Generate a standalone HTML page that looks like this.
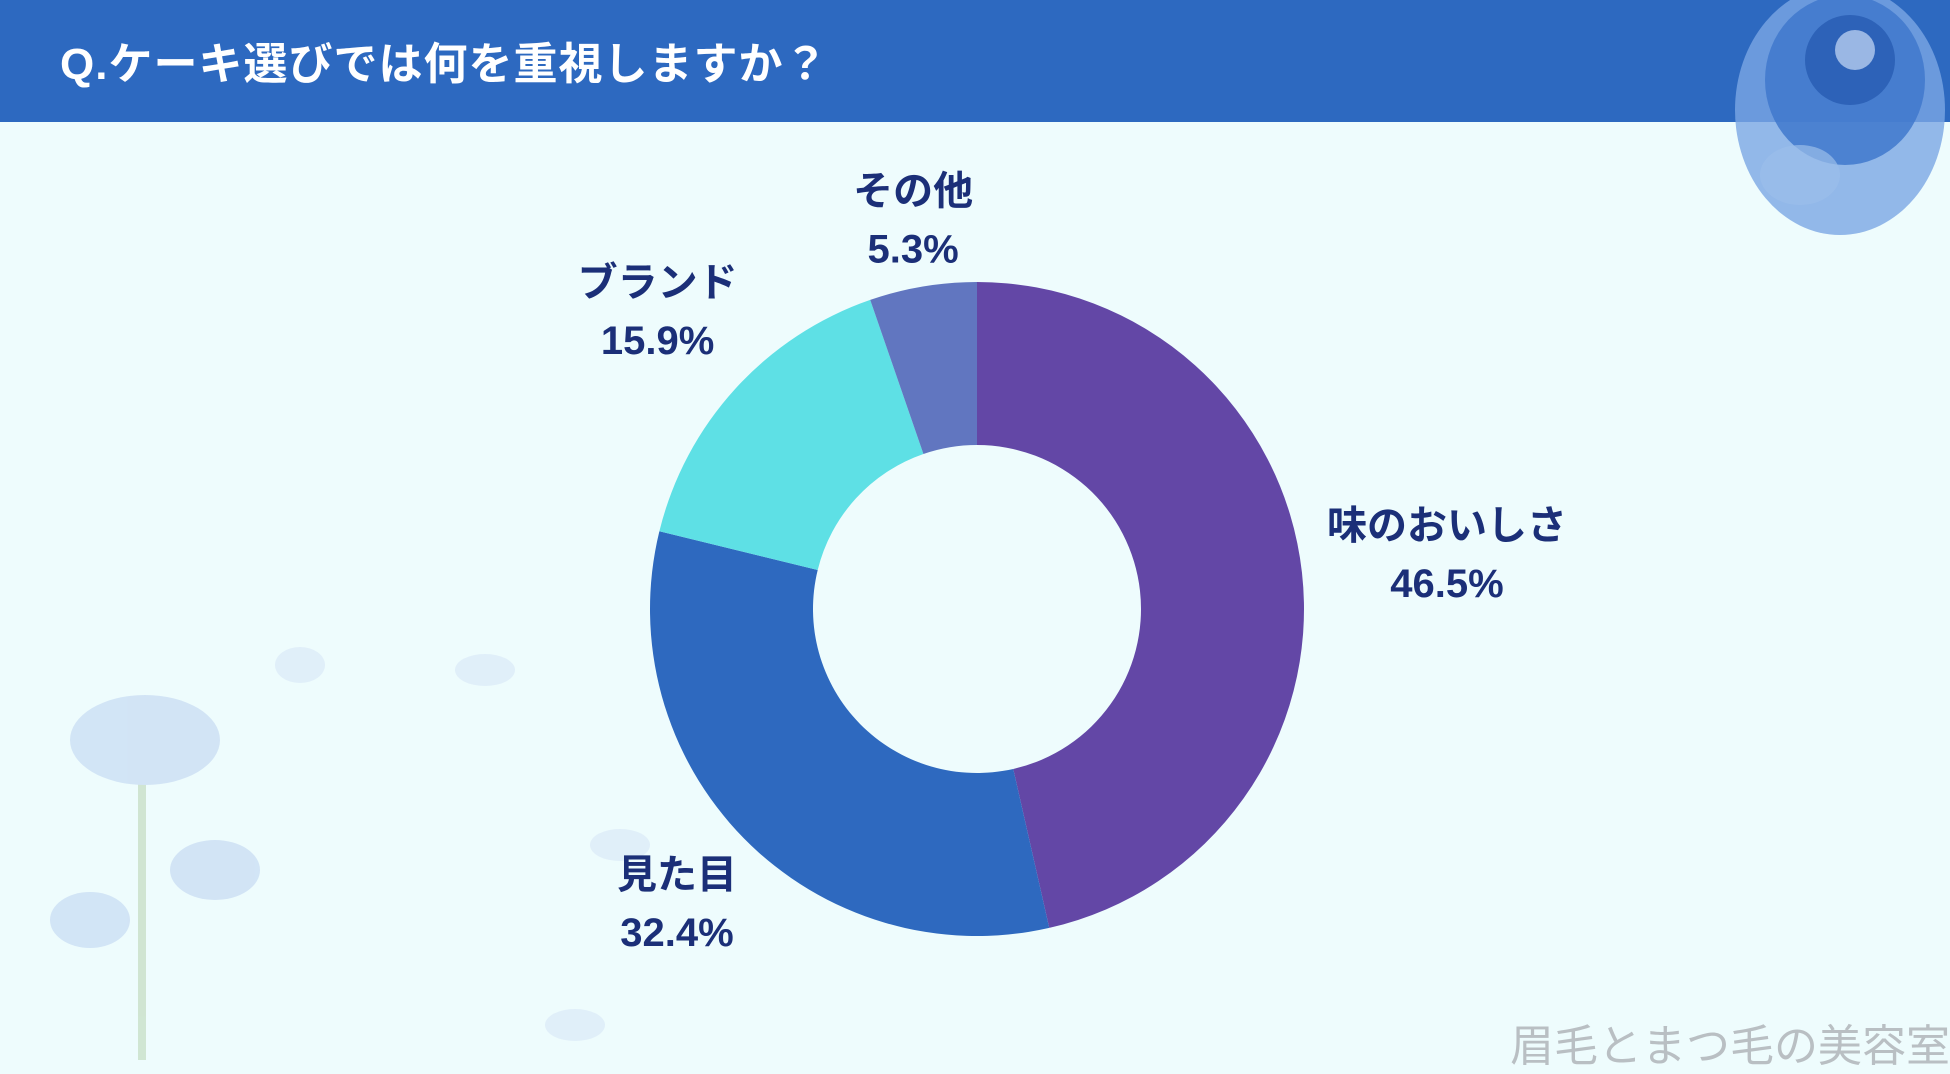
<!DOCTYPE html>
<html><head><meta charset="utf-8">
<style>
html,body{margin:0;padding:0;}
body{width:1950px;height:1064px;background:#eefcfd;position:relative;overflow:hidden;font-family:"Liberation Sans","Noto Sans CJK JP",sans-serif;}
#hdr{position:absolute;left:0;top:0;width:1950px;height:122px;background:#2d69c0;}
#title{position:absolute;left:60px;top:28px;color:#fff;font-size:44px;font-weight:bold;letter-spacing:1px;}
#wm{position:absolute;right:0;top:1010px;color:#b9bfc3;font-size:44px;}
</style></head>
<body>
<div id="hdr"></div>
<div id="title">Q.ケーキ選びでは何を重視しますか？</div>
<svg id="chart" width="1950" height="1064" style="position:absolute;left:0;top:0">
  <g>
    <ellipse cx="1840" cy="110" rx="105" ry="125" fill="#7aa6e3" opacity="0.8"/>
    <ellipse cx="1845" cy="80" rx="80" ry="85" fill="#3f78cc" opacity="0.85"/>
    <circle cx="1850" cy="60" r="45" fill="#2a5fb5" opacity="0.9"/>
    <circle cx="1855" cy="50" r="20" fill="#c9dcf6" opacity="0.7"/>
    <ellipse cx="1800" cy="175" rx="40" ry="30" fill="#9bbde9" opacity="0.7"/>
  </g>
  <g opacity="0.55">
    <rect x="138" y="760" width="8" height="300" fill="#b8d4b0"/>
    <ellipse cx="145" cy="740" rx="75" ry="45" fill="#bcd2f0"/>
    <ellipse cx="215" cy="870" rx="45" ry="30" fill="#bcd2f0"/>
    <ellipse cx="90" cy="920" rx="40" ry="28" fill="#bcd2f0"/>
    <ellipse cx="300" cy="665" rx="25" ry="18" fill="#d6e4f5"/>
    <ellipse cx="485" cy="670" rx="30" ry="16" fill="#d6e4f5"/>
    <ellipse cx="620" cy="845" rx="30" ry="16" fill="#d6e4f5"/>
    <ellipse cx="575" cy="1025" rx="30" ry="16" fill="#d6e4f5"/>
  </g>
  <g id="slices"></g>
  <g id="labels"></g>
</svg>
<div id="wm">眉毛とまつ毛の美容室</div>
<script>
const categories = ["味のおいしさ","見た目","ブランド","その他"];
const values = [46.5, 32.4, 15.9, 5.3];
const valueLabels = ["46.5%","32.4%","15.9%","5.3%"];
const colors = ["#6347a6","#2e69bf","#5ee0e5","#6176c0"];
const cx=977, cy=609, R=327, r=164;
const NS="http://www.w3.org/2000/svg";
const total = values.reduce((a,b)=>a+b,0);
function ang(v){return v/total*2*Math.PI;}
function pt(a,rad){return [cx+rad*Math.sin(a), cy-rad*Math.cos(a)];}
let acc=0;
const sg=document.getElementById('slices'), lg=document.getElementById('labels');
values.forEach((v,i)=>{
  const a0=ang(acc), a1=ang(acc+v); acc+=v;
  const large=(a1-a0)>Math.PI?1:0;
  const p0=pt(a0,R),p1=pt(a1,R),q1=pt(a1,r),q0=pt(a0,r);
  const p=document.createElementNS(NS,'path');
  p.setAttribute('d',`M${p0[0]},${p0[1]} A${R},${R} 0 ${large} 1 ${p1[0]},${p1[1]} L${q1[0]},${q1[1]} A${r},${r} 0 ${large} 0 ${q0[0]},${q0[1]} Z`);
  p.setAttribute('fill',colors[i]);
  
  
  sg.appendChild(p);
  const mid=(a0+a1)/2;
  const lr = i===3 ? 410 : (i===2 ? 420 : 490);
  const lp=pt(mid,lr);
  let lx=lp[0], ly=lp[1];
  if(i===0){lx=1447;ly=553;}
  if(i===1){lx=677;ly=902;}
  if(i===2){lx-=9;ly-=16;}
  if(i===3){lx+=4;ly+=14;}
  [categories[i],valueLabels[i]].forEach((s,k)=>{
    const t=document.createElementNS(NS,'text');
    t.setAttribute('x',lx); t.setAttribute('y',ly-14+k*58);
    t.setAttribute('text-anchor','middle');
    t.setAttribute('font-size','40'); t.setAttribute('font-weight','bold');
    t.setAttribute('fill','#1b2f78');
    t.setAttribute('font-family','"Liberation Sans","Noto Sans CJK JP",sans-serif');
    t.textContent=s;
    
    
    lg.appendChild(t);
  });
});
</script>
</body></html>
